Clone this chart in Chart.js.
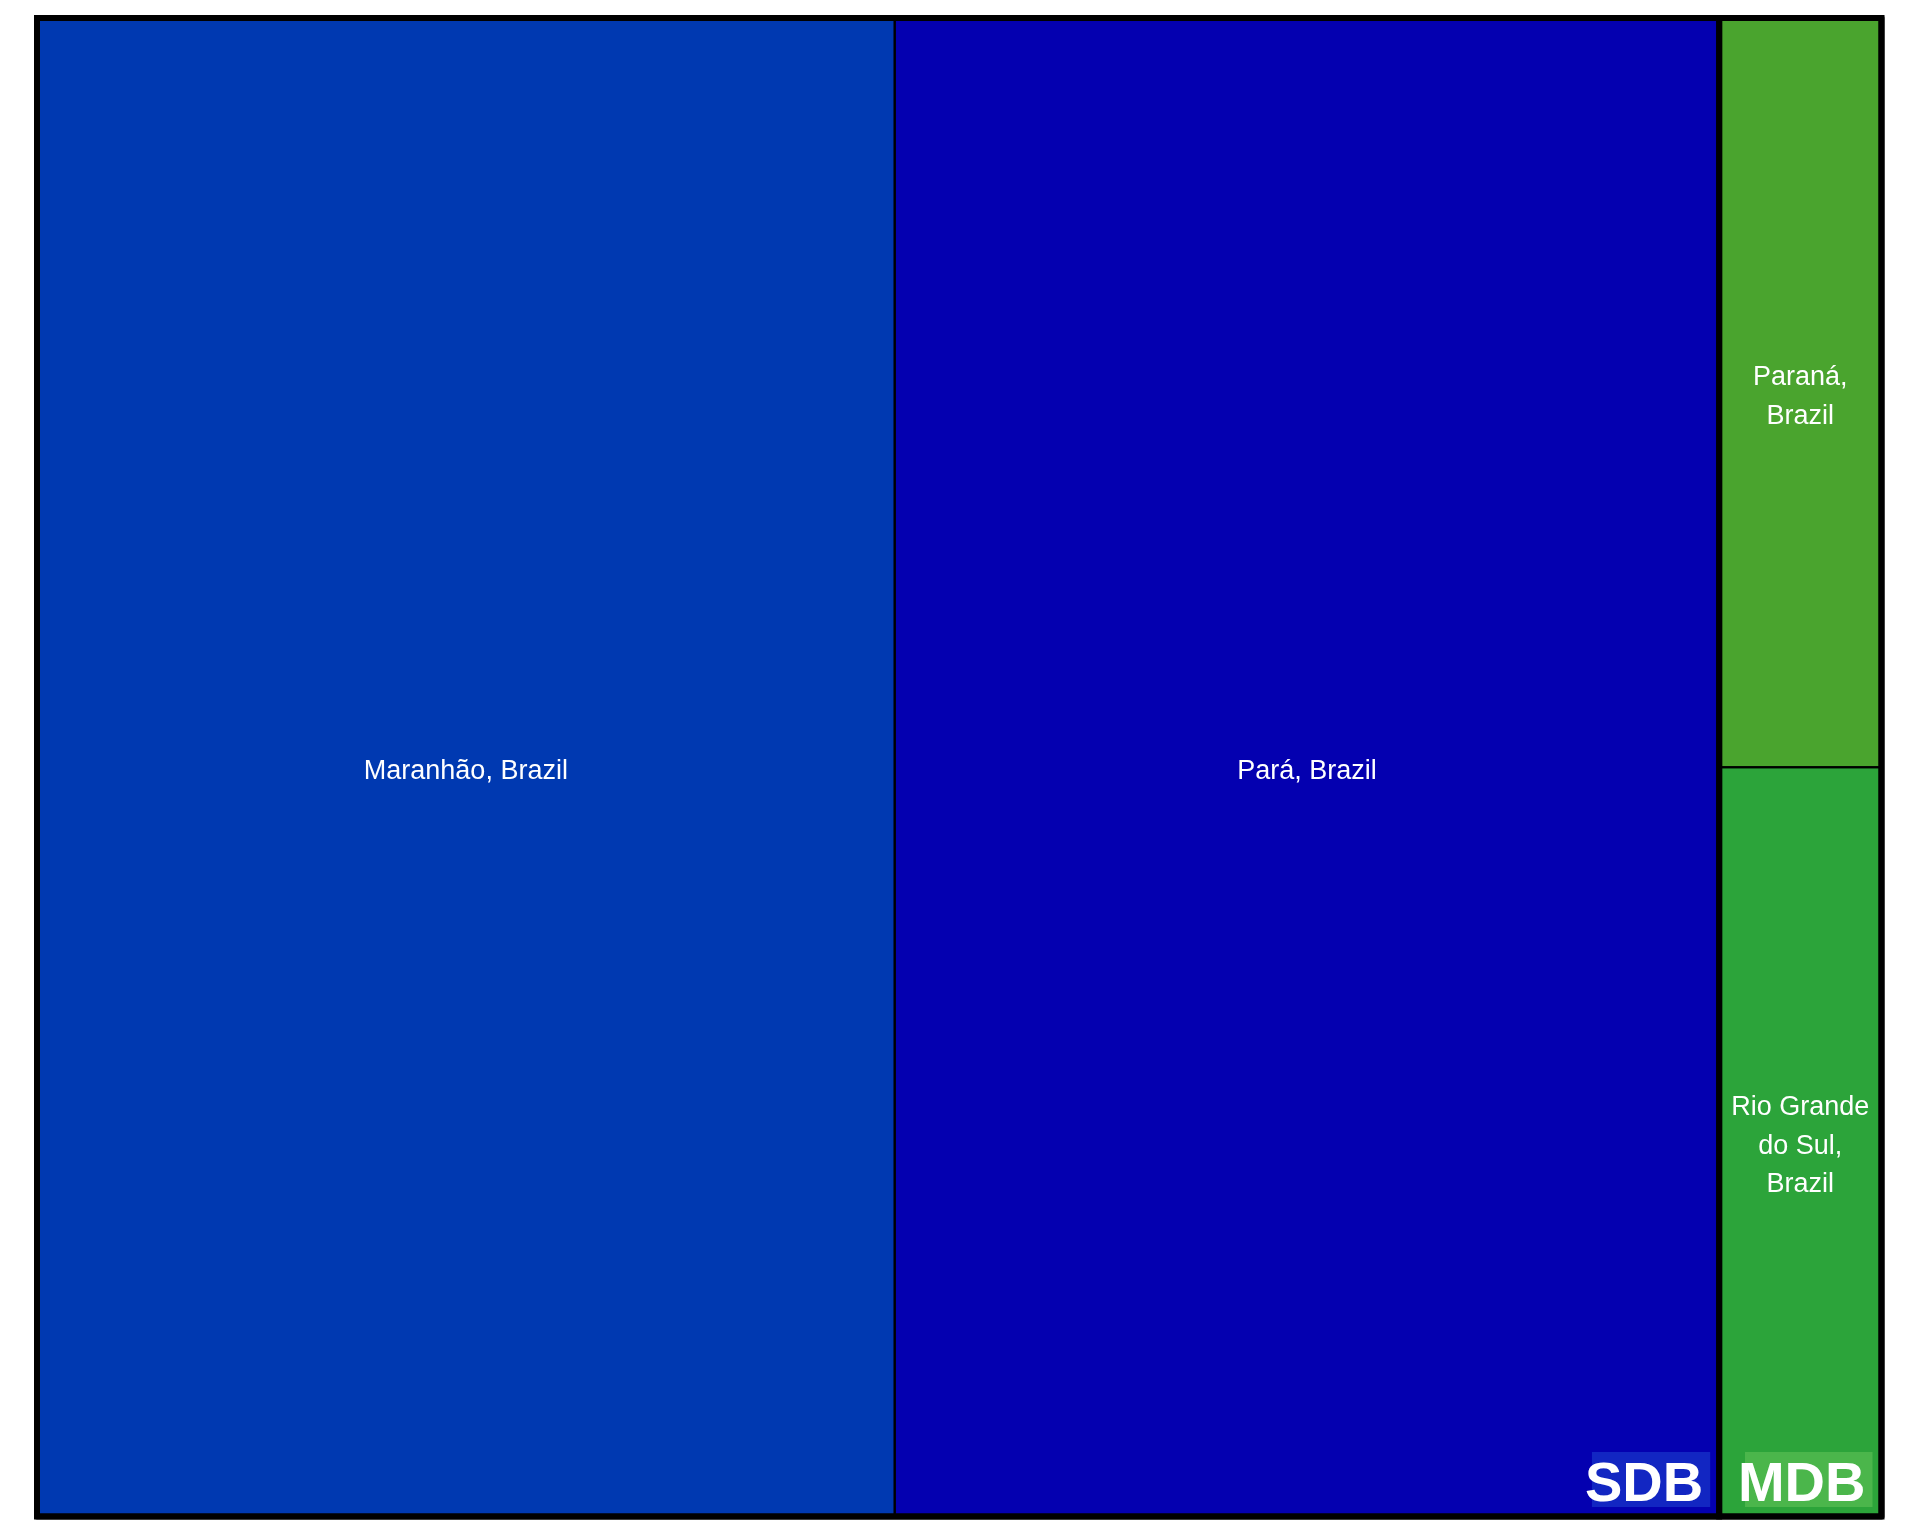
<!DOCTYPE html>
<html>
<head>
<meta charset="utf-8">
<script src="https://cdn.jsdelivr.net/npm/chart.js@4"></script>
<style>
  html, body { margin: 0; padding: 0; background: #ffffff; }
  #wrap { width: 1920px; height: 1536px; }
</style>
</head>
<body>
<div id="wrap"><canvas id="c" width="1920" height="1536"></canvas></div>
<script>
// ---- data ----
const groupNames = ['SDB', 'MDB'];
const categories = ['Maranhão, Brazil', 'Pará, Brazil', 'Paraná, Brazil', 'Rio Grande do Sul, Brazil'];
const parents = ['SDB', 'SDB', 'MDB', 'MDB'];
const values = [46.5, 44.7, 4.4, 4.4];

// ---- styles ----
const leafColors = ['#0039B1', '#0400B0', '#4AA42E', '#2CA43A'];
const groupLabelBg = { SDB: '#1226C2', MDB: '#4BB64B' };

const total = values.reduce((a, b) => a + b, 0);

const treemapPlugin = {
  id: 'treemap',
  beforeDatasetsDraw(chart) {
    const ctx = chart.ctx;
    const xs = chart.scales.x, ys = chart.scales.y;
    const px = v => xs.getPixelForValue(v);
    const py = v => ys.getPixelForValue(v);

    const leaves = [];
    const groupsRects = [];
    let gCum = 0;
    groupNames.forEach(g => {
      const idx = categories.map((c, i) => i).filter(i => parents[i] === g);
      const gSum = idx.reduce((a, i) => a + values[i], 0);
      const gx0 = gCum, gx1 = gCum + gSum;
      const gRect = { x0: px(gx0), x1: px(gx1), y0: py(0), y1: py(1), name: g };
      groupsRects.push(gRect);
      const horizontal = Math.abs(gRect.x1 - gRect.x0) >= Math.abs(gRect.y1 - gRect.y0);
      let cum = 0;
      idx.forEach(i => {
        let r;
        if (horizontal) {
          r = { x0: px(gx0 + cum), x1: px(gx0 + cum + values[i]), y0: py(0), y1: py(1) };
        } else {
          r = { x0: gRect.x0, x1: gRect.x1, y0: py(cum / gSum), y1: py((cum + values[i]) / gSum) };
        }
        r.i = i;
        leaves.push(r);
        cum += values[i];
      });
      gCum += gSum;
    });

    ctx.save();
    leaves.forEach(r => {
      ctx.fillStyle = leafColors[r.i];
      ctx.fillRect(r.x0, r.y0, r.x1 - r.x0, r.y1 - r.y0);
    });
    ctx.strokeStyle = '#000000';
    ctx.lineWidth = 2;
    leaves.forEach(r => {
      ctx.strokeRect(r.x0, r.y0, r.x1 - r.x0, r.y1 - r.y0);
    });
    ctx.lineWidth = 6;
    groupsRects.forEach(r => {
      ctx.strokeRect(r.x0, r.y0, r.x1 - r.x0, r.y1 - r.y0);
    });
    ctx.lineJoin = 'round';
    ctx.strokeRect(px(0), py(0), px(total) - px(0), py(1) - py(0));

    // leaf labels
    ctx.fillStyle = '#ffffff';
    ctx.font = '27px "Liberation Sans", Arial, sans-serif';
    ctx.textAlign = 'center';
    ctx.textBaseline = 'middle';
    const lineH = 38.6;
    leaves.forEach(r => {
      const w = Math.abs(r.x1 - r.x0) - 10;
      const words = categories[r.i].split(' ');
      const lines = [];
      let cur = '';
      words.forEach(wd => {
        const t = cur ? cur + ' ' + wd : wd;
        if (ctx.measureText(t).width > w && cur) { lines.push(cur); cur = wd; }
        else cur = t;
      });
      if (cur) lines.push(cur);
      const cx = (r.x0 + r.x1) / 2;
      const cy = (r.y0 + r.y1) / 2;
      const startY = cy - (lines.length - 1) * lineH / 2;
      lines.forEach((l, k) => ctx.fillText(l, cx, startY + k * lineH + 4.5));
    });

    // group labels
    ctx.font = 'bold 56px "Liberation Sans", Arial, sans-serif';
    ctx.textAlign = 'left';
    ctx.textBaseline = 'alphabetic';
    groupsRects.forEach(r => {
      const tw = ctx.measureText(r.name).width;
      const right = Math.max(r.x0, r.x1) - 9;
      const bottom = Math.max(r.y0, r.y1) - 9.5;
      const left = right - tw;
      ctx.fillStyle = groupLabelBg[r.name];
      ctx.fillRect(left, bottom - 55, tw, 55);
      ctx.fillStyle = '#ffffff';
      ctx.fillText(r.name, left - 7, bottom - 6);
    });
    ctx.restore();
  }
};

new Chart(document.getElementById('c'), {
  type: 'scatter',
  data: { datasets: [{ data: [], pointRadius: 0 }] },
  options: {
    responsive: false,
    animation: false,
    events: [],
    layout: { padding: { left: 37, top: 18, right: 38.5, bottom: 19.5 } },
    plugins: { legend: { display: false }, tooltip: { enabled: false } },
    scales: {
      x: { type: 'linear', min: 0, max: total, display: false },
      y: { type: 'linear', min: 0, max: 1, reverse: true, display: false }
    }
  },
  plugins: [treemapPlugin]
});
</script>
</body>
</html>
